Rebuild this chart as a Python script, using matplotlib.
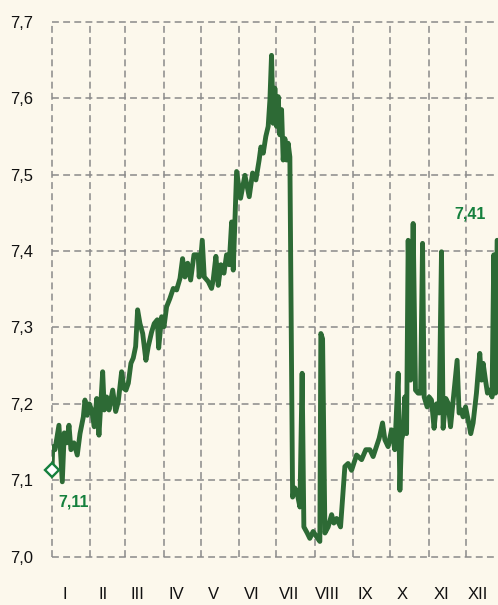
import matplotlib
matplotlib.use("Agg")
import matplotlib.pyplot as plt
import numpy as np

# ---- data (day of year, exchange rate) ----
days = [0, 0.6, 2.4, 5.6, 8.3, 9.9, 11.9, 13.7, 15.3, 17.7, 20.4, 22.6, 25.3, 26.6, 28.5,
        30.1, 32.0, 34.1, 36.1, 37.9, 40.9, 42.2, 44.1, 46.0, 49.0, 51.4, 53.5, 56.2, 58.1,
        59.7, 61.6, 63.7, 65.6, 67.5, 69.1, 71.0, 73.2, 75.8, 77.7, 80.4, 82.5, 85.0, 86.1,
        88.5, 90.4, 92.5, 95.2, 97.9, 100.6, 103.3, 105.4, 107.3, 109.5, 111.9, 114.6, 118.0,
        118.8, 121.3, 122.9, 126.1, 128.8, 130.1, 132.3, 134.2, 136.3, 138.8, 140.9, 143.0,
        145.0, 146.3, 149.0, 152.2, 155.7, 159.2, 161.9, 164.6, 167.2, 168.6, 170.5, 172.6,
        174.5, 175.9, 177.2, 178.5, 179.9, 181.3, 182.6, 183.9, 185.3, 186.6, 188.0, 189.3,
        190.6, 192.0, 194.2, 196.0, 197.9, 200.1, 201.9, 203.3, 206.0, 208.1, 210.8, 213.6,
        216.2, 217.0, 218.4, 220.3, 222.9, 225.7, 227.5, 229.7, 232.9, 236.4, 239.0, 241.8,
        245.8, 249.9, 253.3, 256.6, 259.2, 264.1, 266.8, 268.7, 271.3, 274.1, 276.7, 279.4,
        280.8, 282.1, 283.4, 284.8, 286.2, 287.5, 289.4, 291.5, 293.4, 295.5, 297.5, 299.1,
        300.4, 302.8, 304.4, 306.3, 308.4, 310.4, 312.5, 314.4, 315.7, 317.9, 319.7, 321.7,
        323.8, 327.0, 328.6, 330.5, 331.8, 333.8, 335.9, 338.0, 339.9, 342.6, 343.9, 345.3,
        346.7, 348.0, 349.9, 351.5, 353.4, 355.2, 356.6, 358.0, 359.3]
rates = [7.113, 7.144, 7.140, 7.172, 7.098, 7.162, 7.149, 7.172, 7.140, 7.149, 7.133, 7.161,
         7.183, 7.205, 7.185, 7.200, 7.192, 7.170, 7.207, 7.159, 7.242, 7.192, 7.209, 7.192,
         7.218, 7.190, 7.203, 7.242, 7.220, 7.218, 7.227, 7.253, 7.260, 7.275, 7.323, 7.305,
         7.292, 7.257, 7.275, 7.294, 7.305, 7.310, 7.273, 7.314, 7.301, 7.327, 7.338, 7.351,
         7.349, 7.364, 7.390, 7.366, 7.384, 7.362, 7.395, 7.395, 7.366, 7.414, 7.366, 7.360,
         7.351, 7.362, 7.393, 7.355, 7.382, 7.371, 7.395, 7.382, 7.438, 7.375, 7.504, 7.469,
         7.499, 7.471, 7.502, 7.493, 7.519, 7.536, 7.528, 7.550, 7.563, 7.598, 7.656, 7.567,
         7.613, 7.563, 7.602, 7.552, 7.585, 7.519, 7.547, 7.519, 7.541, 7.523, 7.078, 7.090,
         7.083, 7.065, 7.240, 7.039, 7.031, 7.024, 7.033, 7.026, 7.020, 7.292, 7.285, 7.031,
         7.039, 7.055, 7.044, 7.050, 7.039, 7.118, 7.122, 7.113, 7.133, 7.127, 7.140, 7.140,
         7.131, 7.155, 7.175, 7.153, 7.144, 7.166, 7.140, 7.240, 7.087, 7.153, 7.161, 7.209,
         7.161, 7.414, 7.231, 7.436, 7.218, 7.214, 7.214, 7.410, 7.209, 7.196, 7.209, 7.205,
         7.168, 7.200, 7.188, 7.399, 7.168, 7.207, 7.201, 7.170, 7.205, 7.257, 7.188, 7.192,
         7.183, 7.196, 7.179, 7.161, 7.175, 7.214, 7.240, 7.266, 7.231, 7.253, 7.231, 7.214,
         7.218, 7.209, 7.395, 7.214, 7.414]

month_labels = ["I", "II", "III", "IV", "V", "VI", "VII", "VIII", "IX", "X", "XI", "XII"]
month_lengths = [31, 28, 31, 30, 31, 30, 31, 31, 30, 31, 30, 31]
y_ticks = [7.0, 7.1, 7.2, 7.3, 7.4, 7.5, 7.6, 7.7]
start_label = "7,11"
end_label = "7,41"

# ---- style ----
BG = "#fcf8ec"
LINE = "#2d6a35"
TXT_GREEN = "#15803d"
GRID = "#8a8a8a"
FONT = ["Liberation Sans", "DejaVu Sans"]

fig = plt.figure(figsize=(4.98, 6.05), dpi=100, facecolor=BG)
ax = fig.add_axes([52 / 498, 48.3 / 605, 446 / 498, 535 / 605])
ax.set_facecolor(BG)

month_starts = np.concatenate([[0], np.cumsum(month_lengths)[:-1]])
xmax = 360
ax.set_xlim(0, xmax)
ax.set_ylim(7.0, 7.7)

grid_kw = dict(color=GRID, linewidth=1.1, linestyle=(0, (4.5, 2.8)), clip_on=False, zorder=1)
for y in y_ticks:
    ax.plot([0, xmax], [y, y], **grid_kw)
for m in month_starts:
    ax.plot([m, m], [7.0, 7.7], **grid_kw)

ax.plot(days, rates, color=LINE, linewidth=3.5, solid_joinstyle="round",
        solid_capstyle="round", zorder=3)
ax.plot([days[0]], [rates[0]], marker="D", markersize=7.2, markerfacecolor="white",
        markeredgecolor=TXT_GREEN, markeredgewidth=1.7, clip_on=False, zorder=4)

ax.text(days[0] + 5.0, rates[0] - 0.041, start_label, color=TXT_GREEN, fontsize=11.5,
        fontweight="bold", family=FONT, ha="left", va="center")
ax.text(days[-1] - 22, 7.448, end_label, color=TXT_GREEN, fontsize=11.5,
        fontweight="bold", family=FONT, ha="center", va="center")

for s in ax.spines.values():
    s.set_visible(False)

ax.set_yticks(y_ticks)
ax.set_yticklabels([f"{v:.1f}".replace(".", ",") for v in y_ticks], family=FONT, fontsize=12)
ax.set_xticks(month_starts + 10)
ax.set_xticklabels(month_labels, family=FONT, fontsize=12)
ax.tick_params(axis="y", length=0, pad=13.5, colors="#111111")
ax.tick_params(axis="x", length=0, pad=22, colors="#111111")

fig.savefig("out.png", dpi=100, facecolor=BG)
